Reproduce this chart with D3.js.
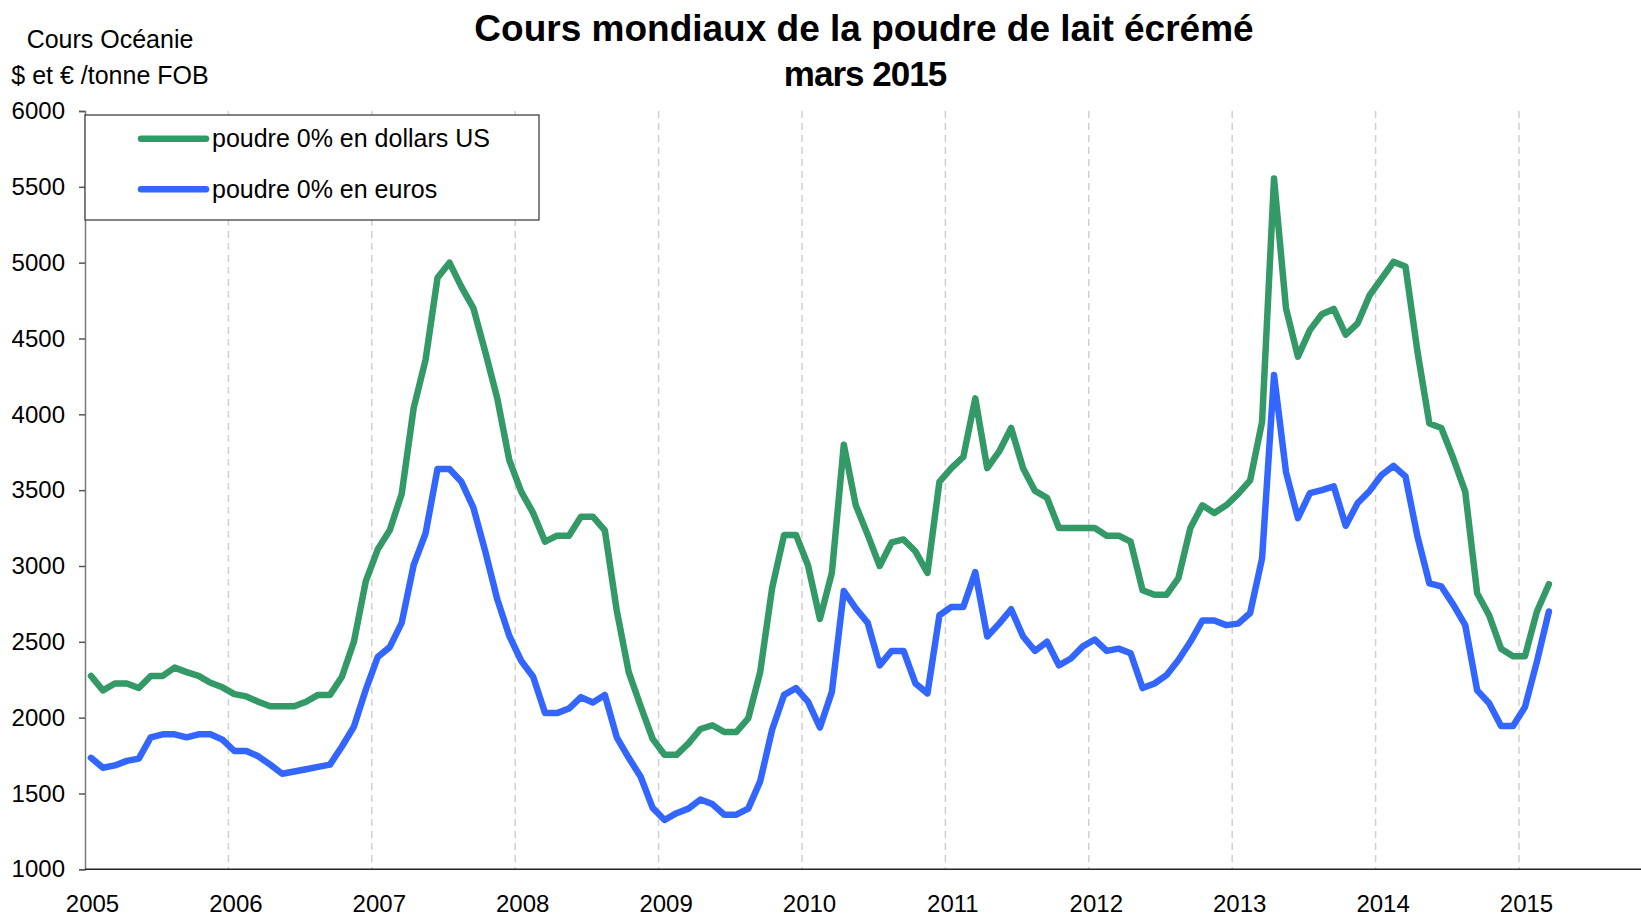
<!DOCTYPE html>
<html lang="fr">
<head>
<meta charset="utf-8">
<script src="https://d3js.org/d3.v7.min.js"></script>
<style type="text/css">
body {
  margin: 0;
  background-color: #ffffff;
  font-family: "Liberation Sans", Arial, sans-serif;
}
svg text { font-family: "Liberation Sans", Arial, sans-serif; fill: #000; }
.axis text { font-size: 24px; }
.grid line { stroke: #cfcfcf; stroke-width: 1.5; stroke-dasharray: 7,5; }
</style>
</head>
<body>
<script type="text/javascript">

// monthly prices, Jan 2005 -> Mar 2015
var yearLabels = ["2005", "2006", "2007", "2008", "2009", "2010", "2011", "2012", "2013", "2014", "2015"];

var usd = [
  2275, 2180, 2225, 2225, 2195, 2275, 2275, 2330, 2300, 2275, 2230, 2200,
  2155, 2140, 2105, 2075, 2075, 2075, 2105, 2150, 2150, 2270, 2500, 2900,
  3110, 3235, 3475, 4040, 4360, 4900, 5000, 4840, 4700, 4410, 4105, 3700,
  3490, 3350, 3160, 3200, 3200, 3325, 3325, 3235, 2705, 2300, 2075, 1860,
  1755, 1755, 1830, 1925, 1950, 1905, 1905, 1995, 2300, 2855, 3205, 3205,
  3005, 2650, 2955, 3800, 3400, 3205, 3000, 3155, 3175, 3095, 2955, 3555,
  3645, 3720, 4105, 3645, 3755, 3910, 3645, 3495, 3450, 3250, 3250, 3250,
  3250, 3200, 3200, 3160, 2840, 2810, 2810, 2920, 3250, 3400, 3350, 3400,
  3475, 3565, 3950, 5555, 4700, 4380, 4555, 4660, 4695, 4525, 4600, 4785,
  4895, 5005, 4975, 4415, 3940, 3910, 3710, 3490, 2820, 2675, 2455, 2405,
  2405, 2700, 2880
];

var eur = [
  1735, 1670, 1685, 1715, 1730, 1870, 1890, 1890, 1870, 1890, 1890, 1855,
  1780, 1780, 1745, 1690, 1630, 1645, 1660, 1675, 1690, 1810, 1940, 2185,
  2400, 2465, 2625, 3005, 3215, 3640, 3640, 3555, 3385, 3095, 2780, 2540,
  2375, 2270, 2030, 2030, 2060, 2135, 2100, 2150, 1870, 1735, 1610, 1405,
  1325, 1370, 1400, 1460, 1430, 1360, 1360, 1400, 1580, 1920, 2150, 2195,
  2105, 1935, 2170, 2835, 2720, 2625, 2345, 2440, 2440, 2225, 2160, 2675,
  2730, 2730, 2960, 2535, 2620, 2715, 2535, 2440, 2500, 2345, 2390, 2470,
  2515, 2440, 2455, 2425, 2195, 2225, 2280, 2380, 2500, 2640, 2640, 2610,
  2620, 2690, 3050, 4260, 3620, 3315, 3480, 3500, 3525, 3265, 3415, 3495,
  3600, 3660, 3590, 3195, 2885, 2865, 2745, 2610, 2180, 2095, 1945, 1945,
  2070, 2370, 2700
];

var yTicks = [1000, 1500, 2000, 2500, 3000, 3500, 4000, 4500, 5000, 5500, 6000];

var seriesNames = ["poudre 0% en dollars US", "poudre 0% en euros"];
var seriesColors = ["#339966", "#3366ff"];

var width = 1641;
var height = 917;
var plotLeft = 85, plotRight = 1641, plotTop = 111, plotBottom = 869.3;
var monthW = 11.95;

var svg = d3.select("body")
  .append("svg")
  .attr("width", width)
  .attr("height", height);

// category axis: 12 slots per year, drawn past the right edge
var x = d3.scaleLinear()
  .domain([0, 132])
  .range([plotLeft, plotLeft + 132 * monthW]);

var y = d3.scaleLinear()
  .domain([1000, 6000])
  .range([plotBottom, plotTop]);

// dashed year separators
svg.append("g")
  .attr("class", "grid")
  .selectAll("line")
  .data(yearLabels.slice(1))
  .enter()
  .append("line")
  .attr("x1", function(d, i) { return x((i + 1) * 12); })
  .attr("x2", function(d, i) { return x((i + 1) * 12); })
  .attr("y1", plotTop)
  .attr("y2", plotBottom);

// y axis
var yAxis = svg.append("g")
  .attr("class", "axis")
  .attr("transform", "translate(" + plotLeft + ",0)")
  .call(d3.axisLeft(y).tickValues(yTicks).tickSize(6).tickPadding(14).tickFormat(d3.format("d")));
yAxis.select(".domain").attr("stroke", "#777").attr("stroke-width", 1.5);
yAxis.selectAll(".tick line").attr("stroke", "#555").attr("stroke-width", 1.5);

// x axis: labels under January of each year
var xAxis = svg.append("g")
  .attr("class", "axis")
  .attr("transform", "translate(0," + plotBottom + ")")
  .call(d3.axisBottom(x)
    .tickValues(yearLabels.map(function(d, i) { return i * 12 + 0.5; }))
    .tickSize(0)
    .tickPadding(26)
    .tickFormat(function(d) { return yearLabels[Math.round((d - 0.5) / 12)]; }));
xAxis.select(".domain").remove();
xAxis.selectAll("text").attr("dx", "1px");
svg.append("line")
  .attr("x1", plotLeft).attr("x2", plotRight)
  .attr("y1", plotBottom).attr("y2", plotBottom)
  .attr("stroke", "#222").attr("stroke-width", 1.5);

// lines
var line = d3.line()
  .x(function(d, i) { return x(i + 0.5); })
  .y(function(d) { return y(d); });

[usd, eur].forEach(function(s, k) {
  svg.append("path")
    .datum(s)
    .attr("d", line)
    .attr("fill", "none")
    .attr("stroke", seriesColors[k])
    .attr("stroke-width", 6.5)
    .attr("stroke-linejoin", "round")
    .attr("stroke-linecap", "round");
});

// legend
var legend = svg.append("g");
legend.append("rect")
  .attr("x", plotLeft).attr("y", 115)
  .attr("width", 454).attr("height", 105)
  .attr("fill", "#fff")
  .attr("stroke", "#333")
  .attr("stroke-width", 1.2);
seriesNames.forEach(function(name, k) {
  var ly = 138.7 + k * 50.5;
  legend.append("line")
    .attr("x1", 141).attr("x2", 206)
    .attr("y1", ly).attr("y2", ly)
    .attr("stroke", seriesColors[k])
    .attr("stroke-width", 6.5)
    .attr("stroke-linecap", "round");
  legend.append("text")
    .attr("x", 212).attr("y", ly + 8.5)
    .style("font-size", "25px")
    .text(name);
});

// titles
svg.append("text")
  .attr("x", 864).attr("y", 41)
  .attr("text-anchor", "middle")
  .style("font-size", "37px").style("font-weight", "bold")
  .text("Cours mondiaux de la poudre de lait écrémé");
svg.append("text")
  .attr("x", 865).attr("y", 86)
  .attr("text-anchor", "middle")
  .style("font-size", "35px").style("font-weight", "bold")
  .style("letter-spacing", "-1px")
  .text("mars 2015");

svg.append("text")
  .attr("x", 110).attr("y", 48)
  .attr("text-anchor", "middle")
  .style("font-size", "25px")
  .text("Cours Océanie");
svg.append("text")
  .attr("x", 110).attr("y", 84)
  .attr("text-anchor", "middle")
  .style("font-size", "25px")
  .text("$ et € /tonne FOB");

</script>
</body>
</html>
